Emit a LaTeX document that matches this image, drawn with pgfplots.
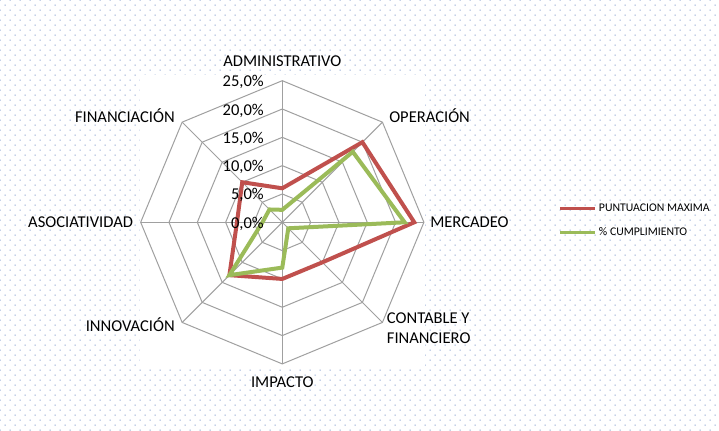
\documentclass[border=0pt]{standalone}
\usepackage{fontspec}
\setmainfont{Carlito}
\usepackage{pgfplots}
\pgfplotsset{compat=1.18}
\usetikzlibrary{patterns}

\definecolor{serieA}{RGB}{192,80,77}
\definecolor{serieB}{RGB}{155,187,89}
\definecolor{rejilla}{RGB}{160,160,160}
\definecolor{puntos}{RGB}{115,145,200}

% excel-like dotted background
\pgfdeclarepatternformonly{puntitos}{\pgfqpoint{-0.5pt}{-0.5pt}}{\pgfqpoint{4.5pt}{4.5pt}}{\pgfqpoint{7.5pt}{7.5pt}}{%
  \pgfpathrectangle{\pgfqpoint{-0.375pt}{-0.375pt}}{\pgfqpoint{0.75pt}{0.75pt}}%
  \pgfpathrectangle{\pgfqpoint{3.375pt}{3.375pt}}{\pgfqpoint{0.75pt}{0.75pt}}%
  \pgfusepath{fill}}

\newcommand{\lab}{\fontsize{12.4}{15}\selectfont}

\begin{document}
\begin{tikzpicture}
\useasboundingbox (-211.7pt,-155.8pt) rectangle (327.5pt,166.7pt);
\fill[pattern=puntitos, pattern color=puntos] (-211.7pt,-155.8pt) rectangle (327.5pt,166.7pt);
\fill[white] (-106.7pt,-108.5pt) rectangle (107pt,110.5pt);
\begin{axis}[
  anchor=center, at={(0,0)},
  x=4.248pt, y=4.248pt,
  xmin=-26, xmax=26, ymin=-26, ymax=26,
  hide axis, clip=false,
  legend style={draw=none, fill=none, at={(axis cs:48.68,3.75)}, anchor=north west,
    font=\fontsize{8.8}{10}\selectfont, inner sep=0pt, row sep=6.5pt,
    /tikz/every even column/.append style={column sep=-1.3pt}},
  legend cell align=left,
  legend image code/.code={\draw[#1, line width=2.5pt] (0pt,0pt) -- (26pt,0pt);},
]
% octagon rings
\pgfplotsinvokeforeach{5,10,15,20,25}{
  \addplot[rejilla, line width=0.75pt, data cs=polar, forget plot] coordinates {
    (90,#1) (45,#1) (0,#1) (-45,#1) (-90,#1) (-135,#1) (180,#1) (135,#1)} -- cycle;
}
% spokes
\addplot[rejilla, line width=0.75pt, data cs=polar, forget plot] coordinates {(90,25) (-90,25)};
\addplot[rejilla, line width=0.75pt, data cs=polar, forget plot] coordinates {(45,25) (-135,25)};
\addplot[rejilla, line width=0.75pt, data cs=polar, forget plot] coordinates {(0,25) (180,25)};
\addplot[rejilla, line width=0.75pt, data cs=polar, forget plot] coordinates {(-45,25) (135,25)};

% PUNTUACION MAXIMA
\addplot[serieA, line width=3pt, data cs=polar] coordinates {
  (90,6) (45,20) (0,23.3) (-45,10) (-90,10) (-135,13.2) (180,8) (135,10)} -- cycle;
\addlegendentry{PUNTUACION MAXIMA}
% % CUMPLIMIENTO
\addplot[serieB, line width=3pt, data cs=polar] coordinates {
  (90,2.2) (45,17.6) (0,21.6) (-45,1.5) (-90,8) (-135,13.2) (180,3.5) (135,3.2)} -- cycle;
\addlegendentry{\% CUMPLIMIENTO}

% radial tick labels
\node[anchor=base east, inner sep=0pt, font=\lab] at (axis cs:-3.23,-1.06) {0,0\%};
\node[anchor=base east, inner sep=0pt, font=\lab] at (axis cs:-3.23,3.94) {5,0\%};
\node[anchor=base east, inner sep=0pt, font=\lab] at (axis cs:-3.23,8.94) {10,0\%};
\node[anchor=base east, inner sep=0pt, font=\lab] at (axis cs:-3.23,13.94) {15,0\%};
\node[anchor=base east, inner sep=0pt, font=\lab] at (axis cs:-3.23,18.94) {20,0\%};
\node[anchor=base east, inner sep=0pt, font=\lab] at (axis cs:-3.23,23.94) {25,0\%};

% category labels
\node[anchor=base, inner sep=0pt, font=\lab] at (axis cs:0,27.47) {ADMINISTRATIVO};
\node[anchor=base west, inner sep=0pt, font=\lab] at (axis cs:18.84,17.58) {OPERACIÓN};
\node[anchor=base west, inner sep=0pt, font=\lab] at (axis cs:26.08,-0.88) {MERCADEO};
\node[anchor=base west, inner sep=0pt, font=\lab] at (axis cs:18.43,-17.83) {CONTABLE Y};
\node[anchor=base west, inner sep=0pt, font=\lab] at (axis cs:18.43,-21.36) {FINANCIERO};
\node[anchor=base, inner sep=0pt, font=\lab] at (axis cs:0,-29.2) {IMPACTO};
\node[anchor=base east, inner sep=0pt, font=\lab] at (axis cs:-18.94,-19.31) {INNOVACIÓN};
\node[anchor=base east, inner sep=0pt, font=\lab] at (axis cs:-26.3,-0.88) {ASOCIATIVIDAD};
\node[anchor=base east, inner sep=0pt, font=\lab] at (axis cs:-18.94,17.58) {FINANCIACIÓN};
\end{axis}
\end{tikzpicture}
\end{document}
